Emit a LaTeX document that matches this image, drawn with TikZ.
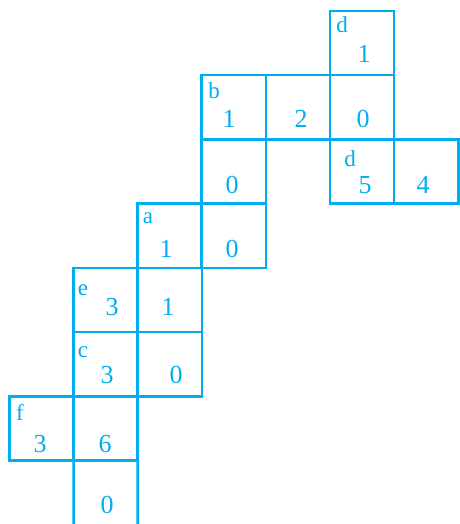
\documentclass[tikz,border=0pt]{standalone}
\usepackage{fontspec}
\setmainfont{Liberation Serif}
\definecolor{cy}{RGB}{0,174,239}
\begin{document}
\begin{tikzpicture}[x=1pt,y=-1pt,
  cell/.style={draw=cy, line width=2.6pt, minimum width=64.2pt, minimum height=64.2pt, inner sep=0pt, outer sep=0pt},
  side/.style={draw=cy, line width=2.6pt},
  lab/.style={text=cy, font=\fontsize{23}{23}\selectfont, anchor=base, inner sep=0pt},
  num/.style={text=cy, font=\fontsize{26}{26}\selectfont, anchor=base, inner sep=0pt}]
\useasboundingbox (0,0) rectangle (459,524);
% cells: x lines 9.5+64.1 i ; y lines 11+64.2 j
\node[cell] (c50) at (362.05,43.1) {};
\node[cell] (c31) at (233.85,107.3) {};
\node[cell] (c41) at (297.95,107.3) {};
\node[cell] (c51) at (362.05,107.3) {};
\node[cell] (c32) at (233.85,171.5) {};
\node[cell] (c52) at (362.05,171.5) {};
\node[cell] (c62) at (426.15,171.5) {};
\node[cell] (c23) at (169.75,235.7) {};
\node[cell] (c33) at (233.85,235.7) {};
\node[cell] (c14) at (105.65,299.9) {};
\node[cell] (c24) at (169.75,299.9) {};
\node[cell] (c15) at (105.65,364.1) {};
\node[cell] (c25) at (169.75,364.1) {};
\node[cell] (c06) at (41.55,428.3) {};
\node[cell] (c16) at (105.65,428.3) {};
% open bottom cell
\coordinate (bl) at (73.6,530);
\coordinate (br) at (137.7,530);
\draw[side] (c16.south west) -- (bl);
\draw[side] (c16.south east) -- (br);
% labels
\node[lab] (t1) at (342,33) {d};
\node[num] (t2) at (364,63) {1};
\node[lab] (t3) at (214,99) {b};
\node[num] (t4) at (229,127) {1};
\node[num] (t5) at (301,127) {2};
\node[num] (t6) at (363,128) {0};
\node[num] (t7) at (232,193) {0};
\node[lab] (t8) at (350,166) {d};
\node[num] (t9) at (365,193) {5};
\node[num] (t10) at (423,193) {4};
\node[lab] (t11) at (148,223) {a};
\node[num] (t12) at (166,257) {1};
\node[num] (t13) at (232,257) {0};
\node[lab] (t14) at (83,295) {e};
\node[num] (t15) at (112,315) {3};
\node[num] (t16) at (168,315) {1};
\node[lab] (t17) at (83,357) {c};
\node[num] (t18) at (107,383) {3};
\node[num] (t19) at (176,383) {0};
\node[lab] (t20) at (20,420) {f};
\node[num] (t21) at (40,452) {3};
\node[num] (t22) at (105,452) {6};
\node[num] (t23) at (107,513) {0};
\end{tikzpicture}
\end{document}
